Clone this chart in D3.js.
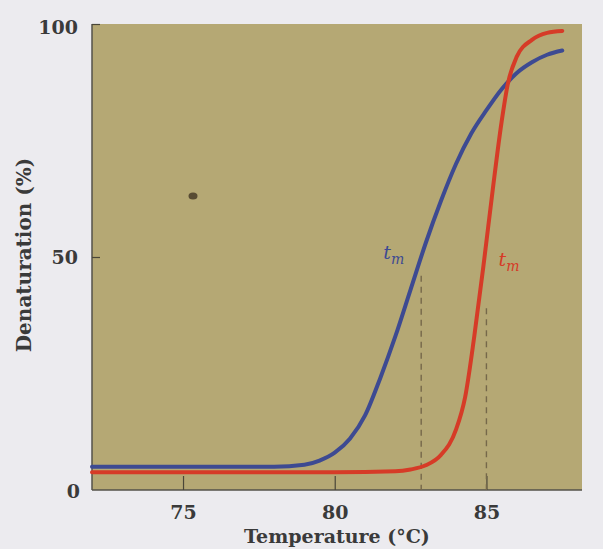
<!DOCTYPE html>
<html><head><meta charset="utf-8">
<script src="https://cdn.jsdelivr.net/npm/d3@7"></script>
<style>
body{margin:0;background:#ecebef;}
svg{display:block;}
</style></head>
<body>
<svg id="c" width="603" height="549"></svg>
<script>
const xTicks = [75, 80, 85];
const yTicks = [0, 50, 100];
const blueTemp = [72, 78, 79, 79.5, 80, 80.5, 81, 81.5, 82, 82.5, 83, 83.5, 84, 84.5, 85, 85.5, 86, 86.5, 87, 87.5];
const blueVal  = [5, 5, 5.4, 6.3, 8, 11, 16, 24, 33, 43, 53, 62, 70, 76.5, 81.5, 86, 89.5, 91.8, 93.4, 94.3];
const redTemp  = [72, 80, 82, 82.5, 83, 83.5, 84, 84.3, 84.6, 84.9, 85.2, 85.5, 85.7, 86, 86.5, 87, 87.5];
const redVal   = [3.8, 3.8, 4.0, 4.4, 5.3, 7.5, 13, 20, 33, 48, 64, 79, 87, 93, 96.6, 98.1, 98.5];
const tmTemps  = [82.85, 85.0];
const tmLabelY = [50, 48.5];

const svg = d3.select("#c");
const x = d3.scaleLinear().domain([72, 88.15]).range([92, 582]);
const y = d3.scaleLinear().domain([0, 100]).range([490, 24]);

svg.append("rect").attr("x", 0).attr("y", 0).attr("width", 603).attr("height", 549).attr("fill", "#ecebef");
svg.append("rect").attr("x", x(72)).attr("y", y(100)).attr("width", x(88.15) - x(72)).attr("height", y(0) - y(100)).attr("fill", "#b5a874");
// speck
svg.append("ellipse").attr("cx", 193).attr("cy", 196).attr("rx", 4.5).attr("ry", 3.5).attr("fill", "#3a2e1e").attr("opacity", 0.75);

// axes lines
svg.append("line").attr("x1", x(72)).attr("x2", x(72)).attr("y1", y(100)).attr("y2", y(0)).attr("stroke", "#55524a").attr("stroke-width", 1.5);
svg.append("line").attr("x1", x(72)).attr("x2", x(88.15)).attr("y1", y(0)).attr("y2", y(0)).attr("stroke", "#55524a").attr("stroke-width", 1.5);

// ticks
const xAxis = d3.axisBottom(x).tickValues(xTicks).tickSize(-14).tickPadding(16).tickFormat(d3.format("d"));
const gx = svg.append("g").attr("transform", `translate(0,${y(0)})`).call(xAxis);
gx.select(".domain").remove();
gx.selectAll(".tick line").attr("stroke", "#4a4638").attr("stroke-width", 1.2);
gx.selectAll(".tick text").attr("font-family", "'DejaVu Serif', serif").attr("font-size", 19).attr("font-weight", "bold").attr("fill", "#3a3a3a");

const yAxis = d3.axisLeft(y).tickValues(yTicks).tickSize(-8).tickPadding(14).tickFormat(d3.format("d"));
const gy = svg.append("g").attr("transform", `translate(${x(72)},0)`).call(yAxis);
gy.select(".domain").remove();
gy.selectAll(".tick line").attr("stroke", "#4a4638").attr("stroke-width", 1.2);
gy.selectAll(".tick").filter(d => d === 0).select("line").remove();
gy.selectAll(".tick text").attr("font-family", "'DejaVu Serif', serif").attr("font-size", 19).attr("font-weight", "bold").attr("fill", "#3a3a3a");
gy.selectAll(".tick").filter(d => d === 100).select("text").attr("dy", "0.5em");
gy.selectAll(".tick").filter(d => d === 0).select("text").attr("dy", "0.4em").attr("x", -12);

// dashed tm lines
const line = d3.line().x(d => x(d[0])).y(d => y(d[1])).curve(d3.curveMonotoneX);
svg.selectAll(".tm").data(tmTemps).enter().append("line")
  .attr("x1", d => x(d)).attr("x2", d => x(d))
  .attr("y1", (d, i) => y(i === 0 ? 46 : 39)).attr("y2", y(0))
  .attr("stroke", "#75684a").attr("stroke-width", 1.4).attr("stroke-dasharray", "6,5");

const blue = blueTemp.map((t, i) => [t, blueVal[i]]);
const red = redTemp.map((t, i) => [t, redVal[i]]);
svg.append("path").datum(blue).attr("d", line).attr("fill", "none").attr("stroke", "#3d4a92").attr("stroke-width", 4).attr("stroke-linecap", "round");
svg.append("path").datum(red).attr("d", line).attr("fill", "none").attr("stroke", "#d63b27").attr("stroke-width", 4).attr("stroke-linecap", "round");

// tm labels
const tmColors = ["#3d4a92", "#d63b27"];
const tmX = [81.6, 85.4];
tmX.forEach((tx, i) => {
  const t = svg.append("text").attr("x", x(tx)).attr("y", y(tmLabelY[i]) + 2)
    .attr("font-family", "'DejaVu Serif', serif").attr("font-size", 19).attr("fill", tmColors[i]).attr("font-style", "italic");
  t.append("tspan").text("t");
  t.append("tspan").attr("font-size", 14).attr("dy", 5).text("m");
});

// axis titles
svg.append("text").attr("x", 337).attr("y", 543).attr("text-anchor", "middle")
  .attr("font-family", "'DejaVu Serif', serif").attr("font-size", 19).attr("font-weight", "bold").attr("fill", "#3a3a3a")
  .text("Temperature (°C)");
svg.append("text").attr("transform", "translate(31,255) rotate(-90)").attr("text-anchor", "middle")
  .attr("font-family", "'DejaVu Serif', serif").attr("font-size", 20).attr("font-weight", "bold").attr("fill", "#3a3a3a")
  .text("Denaturation (%)");
</script>
</body></html>
